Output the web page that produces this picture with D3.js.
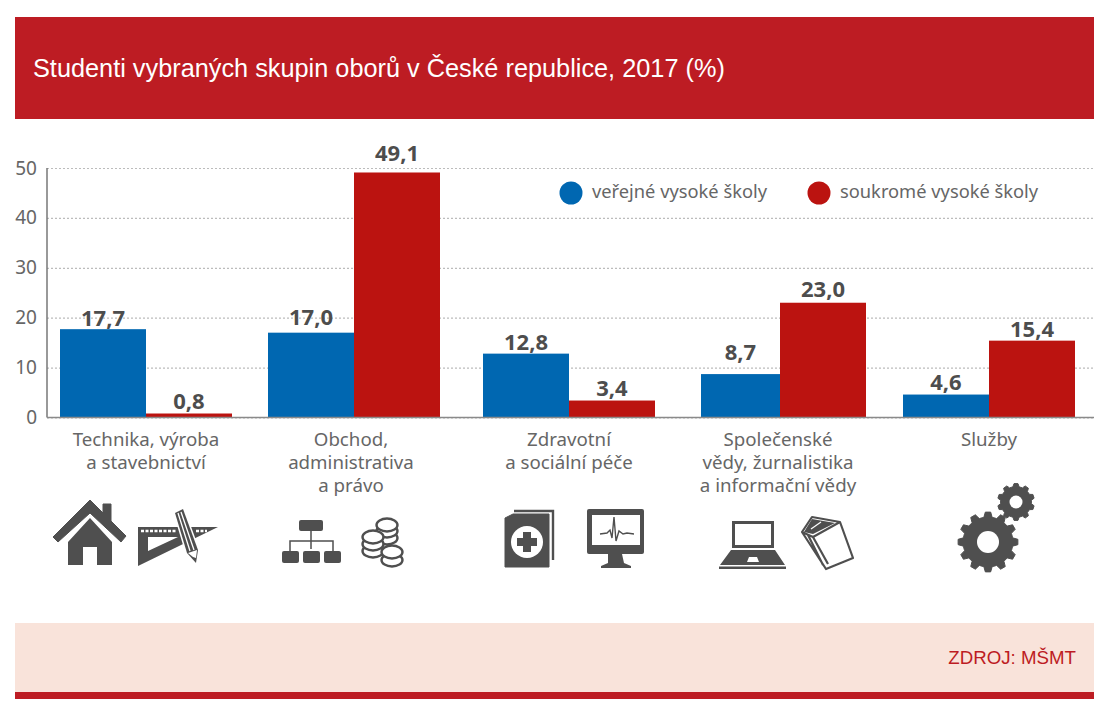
<!DOCTYPE html>
<html>
<head>
<meta charset="utf-8">
<script src="https://cdn.jsdelivr.net/npm/d3@7"></script>
<style>
  html, body { margin: 0; background: #fff; }
  svg { display: block; }
</style>
</head>
<body>
<div id="chart"></div>
<script>
// data
const categories = ["tech", "obchod", "zdrav", "spol", "sluzby"];
const categoryLines = [
    ["Technika, výroba", "a stavebnictví"],
    ["Obchod,", "administrativa", "a právo"],
    ["Zdravotní", "a sociální péče"],
    ["Společenské", "vědy, žurnalistika", "a informační vědy"],
    ["Služby"],
];
const publicValues = [17.7, 17.0, 12.8, 8.7, 4.6];
const privateValues = [0.8, 49.1, 3.4, 23.0, 15.4];
const seriesNames = ["veřejné vysoké školy", "soukromé vysoké školy"];
const yTicks = [0, 10, 20, 30, 40, 50];

const WIDTH = 1104;
const HEIGHT = 712;
const BLUE = "#0067b1";
const RED = "#bb1310";
const BANNER = "#bd1c23";
const ICON = "#505050";
const TEXT = "#666";
const VALUE = "#4d4d4d";
const SANS = "'Noto Sans', 'Open Sans', sans-serif";

const svg = d3.select("#chart").append("svg").attr("width", WIDTH).attr("height", HEIGHT);

svg.append("defs").append("filter").attr("id", "soft")
    .append("feGaussianBlur").attr("stdDeviation", 0.45);

// banner and footer
svg.append("rect").attr("x", 15).attr("y", 17).attr("width", 1079).attr("height", 102).attr("fill", BANNER);
svg.append("text").attr("x", 33).attr("y", 77).attr("fill", "#fff")
    .attr("font-family", "'Liberation Sans', Arial, sans-serif").attr("font-size", 25.3)
    .text("Studenti vybraných skupin oborů v České republice, 2017 (%)");
svg.append("rect").attr("x", 15).attr("y", 623).attr("width", 1079).attr("height", 69).attr("fill", "#f9e3da");
svg.append("rect").attr("x", 15).attr("y", 692).attr("width", 1079).attr("height", 7).attr("fill", BANNER);
svg.append("text").attr("x", 1076).attr("y", 664).attr("text-anchor", "end").attr("fill", BANNER)
    .attr("font-family", "'Liberation Sans', Arial, sans-serif").attr("font-size", 18.7)
    .text("ZDROJ: MŠMT");

// scales; the groups are not evenly spaced in the original
const y = d3.scaleLinear().domain([0, 50]).range([417.5, 168]);
const xMid = d3.scaleOrdinal(categories, [146, 354, 569, 780, 989]);
const publicWidth = d3.scaleOrdinal(categories, [86, 86, 86, 79, 86]);
const labelX = d3.scaleOrdinal(categories, [146, 351, 569, 778, 989]);
const BAR_W = 86;
const AXIS_X = 47;

// y axis with dotted grid
const yAxis = svg.append("g")
    .attr("transform", `translate(${AXIS_X},0)`)
    .call(d3.axisLeft(y).tickValues(yTicks).tickSize(-(1094 - AXIS_X)).tickPadding(10));
yAxis.select(".domain").remove();
yAxis.selectAll("line")
    .attr("stroke", "#bcbcbc").attr("stroke-width", 1.2).attr("stroke-dasharray", "2,2");
yAxis.selectAll("text")
    .attr("fill", TEXT).attr("font-family", SANS).attr("font-size", 19);

// bars
const publicBars = categories.map((c, i) => ({ c, v: publicValues[i] }));
const privateBars = categories.map((c, i) => ({ c, v: privateValues[i] }));

svg.selectAll("rect.public").data(publicBars).enter().append("rect")
    .attr("class", "public")
    .attr("x", (d) => xMid(d.c) - publicWidth(d.c))
    .attr("y", (d) => y(d.v))
    .attr("width", (d) => publicWidth(d.c))
    .attr("height", (d) => y(0) - y(d.v))
    .attr("fill", BLUE);

svg.selectAll("rect.private").data(privateBars).enter().append("rect")
    .attr("class", "private")
    .attr("x", (d) => xMid(d.c))
    .attr("y", (d) => y(d.v))
    .attr("width", BAR_W)
    .attr("height", (d) => y(0) - y(d.v))
    .attr("fill", RED);

// axis lines on top of the grid
svg.append("line").attr("x1", AXIS_X).attr("x2", AXIS_X).attr("y1", y(50)).attr("y2", y(0))
    .attr("stroke", "#777").attr("stroke-width", 1.5);
svg.append("line").attr("x1", AXIS_X).attr("x2", 1094).attr("y1", y(0)).attr("y2", y(0))
    .attr("stroke", "#8a8a8a").attr("stroke-width", 1.6);

// value labels, lift above the bar varies in the original
const fmt = (v) => v.toFixed(1).replace(".", ",");
const publicLift = d3.scaleOrdinal(categories, [3, 8, 4, 14, 5]);
const privateLift = d3.scaleOrdinal(categories, [5, 11, 5, 6, 4]);

function valueLabels(data, xOf, lift) {
    svg.selectAll(null).data(data).enter().append("text")
        .attr("x", xOf)
        .attr("y", (d) => y(d.v) - lift(d.c))
        .attr("text-anchor", "middle")
        .attr("fill", VALUE)
        .attr("font-family", SANS)
        .attr("font-weight", 700)
        .attr("font-size", 22)
        .text((d) => fmt(d.v));
}
valueLabels(publicBars, (d) => xMid(d.c) - publicWidth(d.c) / 2, publicLift);
valueLabels(privateBars, (d) => xMid(d.c) + BAR_W / 2, privateLift);

// category labels
categories.forEach((c, i) => {
    svg.append("text")
        .attr("text-anchor", "middle")
        .attr("fill", TEXT)
        .attr("font-family", SANS)
        .attr("font-size", 18.7)
        .selectAll("tspan").data(categoryLines[i]).enter().append("tspan")
        .attr("x", labelX(c))
        .attr("y", (d, j) => 446 + j * 23)
        .text((d) => d);
});

// legend
const legendX = [571, 819];
const legendColors = [BLUE, RED];
seriesNames.forEach((name, i) => {
    svg.append("circle").attr("cx", legendX[i]).attr("cy", 193).attr("r", 11.5).attr("fill", legendColors[i]);
    svg.append("text").attr("x", legendX[i] + 21).attr("y", 198)
        .attr("fill", TEXT).attr("font-family", SANS).attr("font-size", 18.3)
        .text(name);
});

// icons
const icons = svg.append("g").attr("fill", ICON).attr("filter", "url(#soft)");

// house
icons.append("path").attr("stroke", ICON).attr("stroke-linejoin", "round").attr("d",
    "M53 537 L90 500 L103 513 L103 504 L111 504 L111 521 L126 536 L121 542 L90 513 L58 542 Z");
icons.append("path").attr("d",
    "M68 542 L90 518 L112 542 L112 565 L97 565 L97 547 L83 547 L83 565 L68 565 Z");

// set square with pencil
icons.append("path").attr("fill-rule", "evenodd").attr("d",
    "M138 527 L218 527 L138 566 Z M148 537 L178 537 L148 551 Z");
icons.append("path").attr("fill", "none").attr("stroke", "#fff").attr("stroke-width", 2.5)
    .attr("stroke-dasharray", "3,1.5").attr("d", "M141 531 H176 M196 531 H207");
icons.append("path").attr("stroke", "#fff").attr("stroke-width", 3).attr("paint-order", "stroke")
    .attr("stroke-linejoin", "round").attr("d",
    "M175 513 L183 509 L198 550 L196 563 L187 553 Z");
icons.append("path").attr("fill", "none").attr("stroke", "#fff").attr("stroke-width", 1.3)
    .attr("d", "M178 513 L190 551 M181 512 L194 550");
icons.append("path").attr("fill", "#fff").attr("d", "M188 553 L197 550 L196 558 L193 557 Z");

// org chart
icons.append("rect").attr("x", 299).attr("y", 520).attr("width", 24).attr("height", 11).attr("rx", 2);
[282, 303, 324].forEach((bx) => {
    icons.append("rect").attr("x", bx).attr("y", 551).attr("width", 17).attr("height", 12).attr("rx", 2);
});
icons.append("path").attr("fill", "none").attr("stroke", ICON).attr("stroke-width", 1.5)
    .attr("d", "M311 531 V549 M290 551 V541 H333 V551");

// coins, each stack drawn from the bottom up
const coins = [
    [387, 538], [387, 531], [387, 525],
    [373, 551], [373, 544], [373, 537],
    [392, 560], [392, 552],
];
coins.forEach(([cx, cy]) => {
    icons.append("ellipse").attr("cx", cx).attr("cy", cy).attr("rx", 10.5).attr("ry", 6.5)
        .attr("fill", "#fff").attr("stroke", ICON).attr("stroke-width", 2.4);
});

// medical book
icons.append("path").attr("fill", "none").attr("stroke", ICON).attr("stroke-width", 2.4)
    .attr("d", "M514 511 H553 V560");
icons.append("path").attr("stroke", ICON).attr("stroke-linejoin", "round")
    .attr("d", "M505 518 L513 514 L549 514 V567 H505 Z");
icons.append("circle").attr("cx", 527).attr("cy", 542).attr("r", 16).attr("fill", "#fff");
icons.append("path").attr("d", "M523 532 H531 V538 H537 V546 H531 V552 H523 V546 H517 V538 H523 Z");

// monitor
icons.append("rect").attr("x", 587).attr("y", 509).attr("width", 57).attr("height", 45).attr("rx", 2);
icons.append("rect").attr("x", 592).attr("y", 515).attr("width", 48).attr("height", 30).attr("fill", "#fff");
icons.append("path").attr("d", "M608 554 H622 L624 563 L631 566 V568 H601 V566 L608 563 Z");
icons.append("path").attr("fill", "none").attr("stroke", ICON).attr("stroke-width", 1.4)
    .attr("d", "M600 534 L607 533 L610 530 L612 538 L614 517 L616 541 L619 531 L623 534 L627 533 L634 534");

// laptop
icons.append("path").attr("fill-rule", "evenodd").attr("d",
    "M732 521 H774 V548 H732 Z M735 524 V545 H771 V524 Z");
icons.append("path").attr("fill-rule", "evenodd").attr("d",
    "M731 550 H775 L785 565 H720 Z M749 557 L757 557 L759 562 L747 562 Z");
icons.append("rect").attr("x", 719).attr("y", 566.5).attr("width", 67).attr("height", 2.5);

// closed book outline
icons.append("path").attr("fill", "none").attr("stroke", ICON).attr("stroke-width", 2.2).attr("stroke-linejoin", "round")
    .attr("d", "M802 532 L812 517 L840 522 L853 558 L826 569 Z M813 537 L840 522 M813 537 L828 564 M802 532 L813 537 M808 535 L823 565");
icons.append("path").attr("d", "M804 532 L812 519 L835 523 L813 534 Z");
icons.append("path").attr("fill", "none").attr("stroke", "#fff").attr("stroke-width", 1.2).attr("d", "M811 529 L821 522");

// gears
function gearPath(outer, inner, teeth) {
    const step = (Math.PI * 2) / teeth;
    const pts = [];
    for (let t = 0; t < teeth; t++) {
        const a = t * step;
        pts.push([a - step * 0.32, inner], [a - step * 0.17, outer], [a + step * 0.17, outer], [a + step * 0.32, inner]);
    }
    return d3.lineRadial().curve(d3.curveLinearClosed)(pts);
}
[
    { cx: 988, cy: 542, outer: 30, inner: 25, teeth: 12, hole: 11 },
    { cx: 1016, cy: 502, outer: 18.5, inner: 15.5, teeth: 10, hole: 6.5 },
].forEach((g) => {
    const gear = icons.append("g").attr("transform", `translate(${g.cx},${g.cy})`);
    gear.append("path").attr("d", gearPath(g.outer, g.inner, g.teeth)).attr("stroke", ICON).attr("stroke-linejoin", "round");
    gear.append("circle").attr("r", g.hole).attr("fill", "#fff");
});
</script>
</body>
</html>
